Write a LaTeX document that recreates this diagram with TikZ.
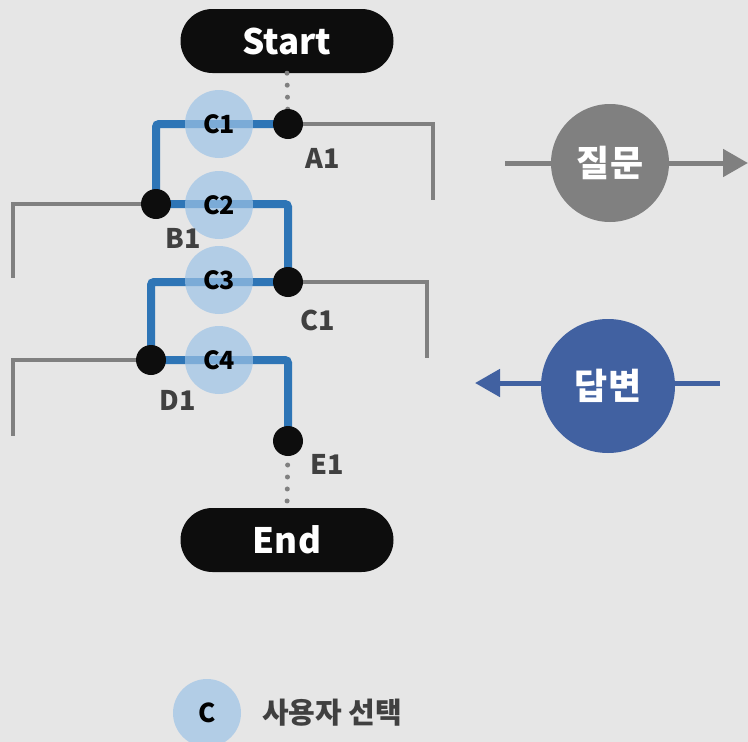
\documentclass[tikz,border=0pt]{standalone}
\usepackage{fontspec}
\setmainfont{Noto Sans CJK KR}
\usetikzlibrary{shapes.misc,arrows.meta}
\definecolor{bg}{HTML}{E6E6E6}
\definecolor{dotblack}{HTML}{0D0D0D}
\definecolor{linegray}{HTML}{808080}
\definecolor{labelgray}{HTML}{404040}
\definecolor{pathblue}{HTML}{2E75B6}
\definecolor{choicefill}{HTML}{9DC3E6}
\definecolor{ansblue}{HTML}{4161A1}
\tikzset{
  pill/.style={rounded rectangle, fill=dotblack, minimum width=213pt, minimum height=64pt, inner sep=0pt, text=white, font=\bfseries\fontsize{35}{40}\selectfont},
  bigdot/.style={circle, fill=dotblack, minimum size=30pt, inner sep=0pt},
  choice/.style={circle, fill=choicefill, fill opacity=0.7, text opacity=1, minimum size=68pt, inner sep=0pt, text=black, font=\bfseries\fontsize{25}{28}\selectfont},
  lbl/.style={text=labelgray, font=\bfseries\fontsize{27}{30}\selectfont, inner sep=0pt},
  gline/.style={draw=linegray, line width=3.5pt},
  bline/.style={draw=pathblue, line width=8pt, rounded corners=3pt},
  dotsline/.style={draw=linegray, line width=5pt, line cap=round, dash pattern=on 0pt off 12pt},
  bigcircle/.style={circle, inner sep=0pt, text=white, font=\bfseries\fontsize{36}{40}\selectfont}
}
\begin{document}
\begin{tikzpicture}[x=1pt,y=-1pt]
\useasboundingbox[fill=bg] (0,0) rectangle (748,742);
% nodes positions
\coordinate (A1) at (288,124);
\coordinate (B1) at (156,204);
\coordinate (Cd) at (288,282);
\coordinate (D1) at (151,360);
\coordinate (E1) at (288,441);
\node[pill] (Start) at (287,41) {Start};
\node[pill] (End) at (287,540) {End};
% dotted connectors
\draw[dotsline] (Start.south) -- (A1);
\draw[dotsline] (E1) -- (End.north);
% gray branches
\draw[gline] (A1) -| (433,200);
\draw[gline] (B1) -| (13,278);
\draw[gline] (Cd) -| (427,358);
\draw[gline] (D1) -| (13,436);
% blue chosen path
\draw[bline] (A1) -| (B1) -| (Cd) -| (D1) -| (E1);
% choice circles
\node[choice] (c1) at (219,124) {C1};
\node[choice] (c2) at (219,205) {C2};
\node[choice] (c3) at (219,280) {C3};
\node[choice] (c4) at (219,360) {C4};
% dots
\node[bigdot] (dA) at (A1) {};
\node[bigdot] (dB) at (B1) {};
\node[bigdot] (dC) at (Cd) {};
\node[bigdot] (dD) at (D1) {};
\node[bigdot] (dE) at (E1) {};
% labels
\node[lbl] (lA) at (323,158) {A1};
\node[lbl] (lB) at (183,238) {B1};
\node[lbl] (lC) at (318,320) {C1};
\node[lbl] (lD) at (178,400) {D1};
\node[lbl] (lE) at (327,464) {E1};
% question / answer
\coordinate (qs) at (505,163);
\coordinate (qe) at (748,163);
\draw[draw=linegray, line width=5pt, -{Triangle[length=25pt,width=27pt]}] (qs) -- (qe);
\node[bigcircle, fill=linegray, minimum size=118pt] (Q) at (610,163) {질문};
\coordinate (as) at (720,383);
\coordinate (ae) at (475,383);
\draw[draw=ansblue, line width=5pt, -{Triangle[length=25pt,width=27pt]}] (as) -- (ae);
\node[bigcircle, fill=ansblue, minimum size=134pt] (A) at (608,386) {답변};
% legend
\node[choice, font=\bfseries\fontsize{26}{28}\selectfont] (LC) at (207,713) {C};
\node[lbl, anchor=west, font=\bfseries\fontsize{29}{32}\selectfont] (LT) at (262,713) {사용자 선택};
\end{tikzpicture}
\end{document}
